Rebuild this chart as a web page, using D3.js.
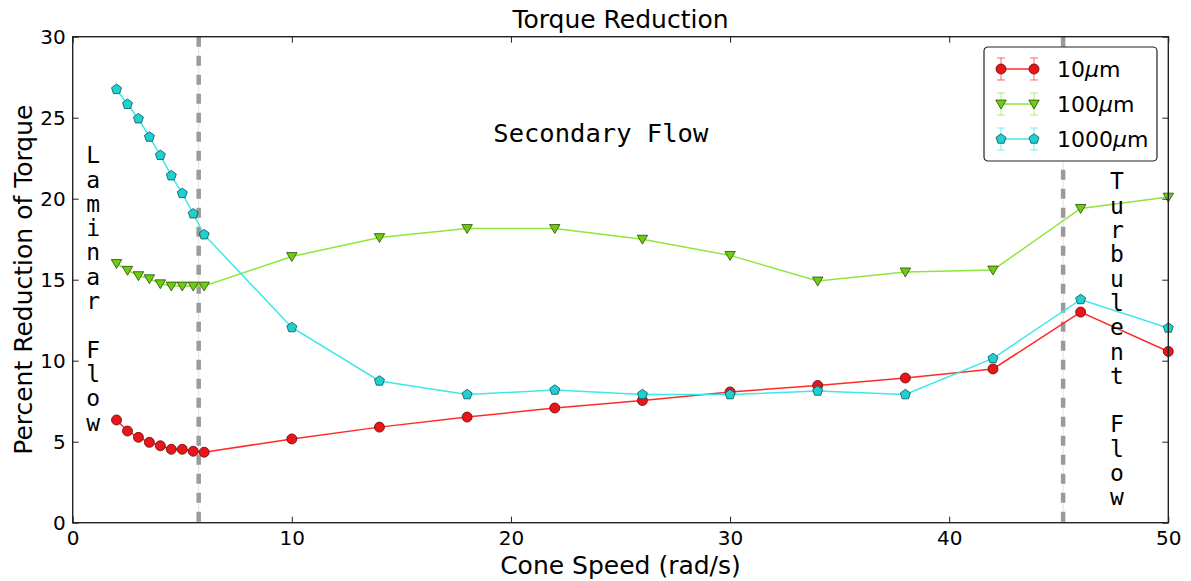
<!DOCTYPE html>
<html>
<head>
<meta charset="utf-8">
<script src="https://cdn.jsdelivr.net/npm/d3@7"></script>
<style>
  html, body { margin: 0; padding: 0; background: #fff; }
  svg { display: block; }
  text { font-family: "DejaVu Sans", sans-serif; fill: #000; }
  .mono { font-family: "DejaVu Sans Mono", monospace; }
</style>
</head>
<body>
<svg id="chart" width="1191" height="581"></svg>
<script>
// Cone speed (rad/s) at which torque was measured
const coneSpeed = [2, 2.5, 3, 3.5, 4, 4.5, 5, 5.5, 6, 10, 14, 18, 22, 26, 30, 34, 38, 42, 46, 50];

// Percent reduction of torque for each groove size
const reduction10 = [6.34, 5.66, 5.27, 4.96, 4.75, 4.53, 4.53, 4.41, 4.35,
                     5.17, 5.9, 6.52, 7.08, 7.54, 8.07, 8.47, 8.93, 9.49, 13.0, 10.57];
const reduction100 = [16.0, 15.58, 15.25, 15.06, 14.75, 14.61, 14.61, 14.61, 14.61,
                      16.43, 17.6, 18.16, 18.16, 17.5, 16.5, 14.92, 15.48, 15.6, 19.4, 20.1];
const reduction1000 = [26.75, 25.83, 24.94, 23.81, 22.68, 21.42, 20.33, 19.07, 17.78,
                       12.05, 8.75, 7.91, 8.19, 7.91, 7.91, 8.13, 7.91, 10.14, 13.78, 12.02];

const seriesNames = ["10", "100", "1000"];
const xTicks = [0, 10, 20, 30, 40, 50];
const yTicks = [0, 5, 10, 15, 20, 25, 30];

// Flow regime boundaries (rad/s)
const regimeBounds = [5.75, 45.2];

const series = [
  { name: seriesNames[0], values: reduction10, line: "#ff2a2a", fill: "#e8151b", edge: "#6a0808", shape: "circle" },
  { name: seriesNames[1], values: reduction100, line: "#8ee63a", fill: "#6fcc14", edge: "#284d06", shape: "triangleDown" },
  { name: seriesNames[2], values: reduction1000, line: "#3ee8e8", fill: "#1fd0d0", edge: "#0b5050", shape: "pentagon" }
];

const W = 1191, H = 581;
const margin = { top: 36.7, right: 22.7, bottom: 58.3, left: 72.7 };
const iw = W - margin.left - margin.right;
const ih = H - margin.top - margin.bottom;

const svg = d3.select("#chart");
const g = svg.append("g").attr("transform", `translate(${margin.left},${margin.top})`);

const x = d3.scaleLinear().domain([0, 50]).range([0, iw]);
const y = d3.scaleLinear().domain([0, 30]).range([ih, 0]);

svg.append("defs").append("clipPath").attr("id", "plotClip")
  .append("rect").attr("x", -6).attr("y", -6).attr("width", iw + 12).attr("height", ih + 12);

// regime boundary lines: thin light guide plus thick grey dashes
regimeBounds.forEach(v => {
  g.append("line")
    .attr("x1", x(v)).attr("x2", x(v)).attr("y1", 0).attr("y2", ih)
    .attr("stroke", "#e2e2e2").attr("stroke-width", 1);
  g.append("line")
    .attr("x1", x(v)).attr("x2", x(v)).attr("y1", 0).attr("y2", ih)
    .attr("stroke", "#9a9a9a").attr("stroke-width", 4.5)
    .attr("stroke-dasharray", "10,9");
});

// marker symbols
function markerPath(shape, size) {
  if (shape === "circle") return d3.symbol(d3.symbolCircle, Math.PI * size * size)();
  if (shape === "triangleDown") {
    const r = size * 1.05;
    return `M${-r},${-r * 0.75}L${r},${-r * 0.75}L0,${r * 0.95}Z`;
  }
  if (shape === "pentagon") {
    const pts = d3.range(5).map(i => {
      const a = -Math.PI / 2 + i * 2 * Math.PI / 5;
      return [size * 1.05 * Math.cos(a), size * 1.05 * Math.sin(a)];
    });
    return "M" + pts.map(p => p.join(",")).join("L") + "Z";
  }
}

const plot = g.append("g").attr("clip-path", "url(#plotClip)");
const lineGen = d3.line().x((d, i) => x(coneSpeed[i])).y(d => y(d));

series.forEach(s => {
  plot.append("path")
    .datum(s.values)
    .attr("fill", "none")
    .attr("stroke", s.line)
    .attr("stroke-width", 1.5)
    .attr("d", lineGen);
});
series.forEach(s => {
  plot.selectAll(null)
    .data(s.values)
    .join("path")
    .attr("transform", (d, i) => `translate(${x(coneSpeed[i])},${y(d)})`)
    .attr("d", markerPath(s.shape, 5))
    .attr("fill", s.fill)
    .attr("stroke", s.edge)
    .attr("stroke-width", 0.8);
});

// axes: ticks pointing inward on all four sides
const tickLen = 6;
const axB = g.append("g").attr("transform", `translate(0,${ih})`)
  .call(d3.axisBottom(x).tickValues(xTicks).tickSize(-tickLen).tickPadding(7).tickFormat(d3.format("d")));
const axT = g.append("g")
  .call(d3.axisTop(x).tickValues(xTicks).tickSize(-tickLen).tickFormat(""));
const axL = g.append("g")
  .call(d3.axisLeft(y).tickValues(yTicks).tickSize(-tickLen).tickPadding(7).tickFormat(d3.format("d")));
const axR = g.append("g").attr("transform", `translate(${iw},0)`)
  .call(d3.axisRight(y).tickValues(yTicks).tickSize(-tickLen).tickFormat(""));
[axB, axT, axL, axR].forEach(a => {
  a.select(".domain").remove();
  a.selectAll(".tick line").attr("stroke", "#222").attr("stroke-width", 1);
  a.selectAll(".tick text").style("font-family", "'DejaVu Sans', sans-serif").style("font-size", "20px").attr("fill", "#111");
});
axB.selectAll(".tick text").attr("dy", "0.75em");
axL.selectAll(".tick text").attr("dy", "0.36em");

// frame
g.append("rect").attr("width", iw).attr("height", ih)
  .attr("fill", "none").attr("stroke", "#222").attr("stroke-width", 1.4);

// titles
svg.append("text").attr("x", margin.left + iw / 2).attr("y", 28)
  .attr("text-anchor", "middle").style("font-size", "25px").text("Torque Reduction");
svg.append("text").attr("x", margin.left + iw / 2).attr("y", 574)
  .attr("text-anchor", "middle").style("font-size", "25px").text("Cone Speed (rad/s)");
svg.append("text")
  .attr("transform", `translate(32,${margin.top + ih / 2}) rotate(-90)`)
  .attr("text-anchor", "middle").style("font-size", "25px").text("Percent Reduction of Torque");

// flow regime annotations
g.append("text").attr("class", "mono")
  .attr("x", x(24.1)).attr("y", y(24.05)).attr("dy", "0.36em")
  .attr("text-anchor", "middle").style("font-size", "25.5px").text("Secondary Flow");

function stacked(label, cx, cy) {
  const t = g.append("text").attr("class", "mono")
    .attr("text-anchor", "middle").style("font-size", "23px");
  label.split("").forEach((ch, i) => {
    t.append("tspan").attr("x", x(cx)).attr("y", y(cy) + i * 24.3).attr("dy", "0.36em")
      .text(ch === " " ? "\u00a0" : ch);
  });
}
stacked("Laminar Flow", 0.93, 22.7);
stacked("Turbulent Flow", 47.66, 21.08);

// legend
const lg = svg.append("g").attr("transform", "translate(984,47)");
lg.append("rect").attr("width", 173).attr("height", 114).attr("rx", 4)
  .attr("fill", "#fff").attr("stroke", "#222").attr("stroke-width", 1.2);
series.forEach((s, i) => {
  const row = lg.append("g").attr("transform", `translate(0,${22 + i * 35})`);
  const xs = [17, 50];
  row.append("line").attr("x1", xs[0]).attr("x2", xs[1]).attr("stroke", s.line).attr("stroke-width", 1.5);
  xs.forEach(px => {
    row.append("line").attr("x1", px).attr("x2", px).attr("y1", -11).attr("y2", 11)
      .attr("stroke", s.line).attr("stroke-opacity", 0.7).attr("stroke-width", 1);
    [-11, 11].forEach(cy => row.append("line").attr("x1", px - 4).attr("x2", px + 4)
      .attr("y1", cy).attr("y2", cy).attr("stroke", s.line).attr("stroke-opacity", 0.7).attr("stroke-width", 1));
    row.append("path").attr("transform", `translate(${px},0)`)
      .attr("d", markerPath(s.shape, 5)).attr("fill", s.fill).attr("stroke", s.edge).attr("stroke-width", 0.8);
  });
  const t = row.append("text").attr("x", 73).attr("dy", "0.36em").style("font-size", "22px");
  t.append("tspan").text(s.name);
  t.append("tspan").style("font-style", "italic").text("\u03bc");
  t.append("tspan").text("m");
});
</script>
</body>
</html>
